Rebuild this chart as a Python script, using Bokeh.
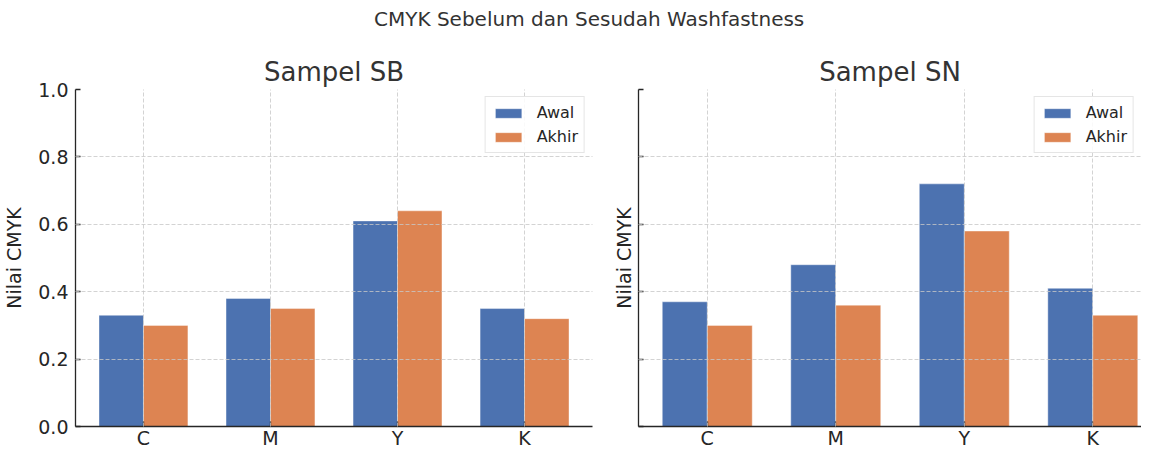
import numpy as np
from bokeh.plotting import figure
from bokeh.models import (Range1d, FixedTicker, Div, Legend, LegendItem,
                          CustomJSTickFormatter, PrintfTickFormatter, ColumnDataSource)
from bokeh.transform import dodge
from bokeh.layouts import column, row
from bokeh.embed import file_html
from bokeh.resources import INLINE

suptitle = "CMYK Sebelum dan Sesudah Washfastness"
categories = ["C", "M", "Y", "K"]
series_names = ["Awal", "Akhir"]
sb_awal = [0.33, 0.38, 0.61, 0.35]
sb_akhir = [0.30, 0.35, 0.64, 0.32]
sn_awal = [0.37, 0.48, 0.72, 0.41]
sn_akhir = [0.30, 0.36, 0.58, 0.33]
y_ticks = [0.0, 0.2, 0.4, 0.6, 0.8, 1.0]
y_label = "Nilai CMYK"
colors = ["#4C72B0", "#DD8452"]

FONT = "DejaVu Sans"
TXT = "#262626"


def make_panel(title, awal, akhir, width, bl, br, x_end, show_labels, label_standoff):
    p = figure(width=width, height=419, x_range=Range1d(-0.535, x_end),
               y_range=Range1d(0, 1), output_backend="svg", toolbar_location=None,
               min_border_left=bl, min_border_right=br, min_border_top=57,
               min_border_bottom=20, title=title)
    p.title.text_font = FONT
    p.title.text_font_size = "26px"
    p.title.text_font_style = "normal"
    p.title.text_color = "#333333"
    p.title.align = "center"
    p.title.standoff = 5
    p.outline_line_color = None
    p.background_fill_color = "white"
    p.border_fill_color = "white"

    x = np.arange(len(categories))
    src = ColumnDataSource(dict(x=x, awal=awal, akhir=akhir))
    r1 = p.vbar(x=dodge("x", -0.175), top="awal", width=0.35, source=src,
                fill_color=colors[0], line_color="#ffffff", line_alpha=0.4, line_width=1)
    r2 = p.vbar(x=dodge("x", 0.175), top="akhir", width=0.35, source=src,
                fill_color=colors[1], line_color="#ffffff", line_alpha=0.4, line_width=1)

    p.xaxis.ticker = FixedTicker(ticks=list(range(len(categories))))
    p.xaxis.major_label_overrides = {i: c for i, c in enumerate(categories)}
    p.yaxis.ticker = FixedTicker(ticks=y_ticks)
    if show_labels:
        p.yaxis.formatter = PrintfTickFormatter(format="%.1f")
    else:
        p.yaxis.formatter = CustomJSTickFormatter(code="return ''")
    p.yaxis.axis_label = y_label
    p.yaxis.axis_label_text_font = FONT
    p.yaxis.axis_label_text_font_size = "19px"
    p.yaxis.axis_label_text_font_style = "normal"
    p.yaxis.axis_label_text_color = TXT
    p.yaxis.axis_label_standoff = label_standoff

    for ax in (p.xaxis, p.yaxis):
        ax.major_label_text_font = FONT
        ax.major_label_text_font_size = "19px"
        ax.major_label_text_color = TXT
        ax.axis_line_color = TXT
        ax.axis_line_width = 1.3
        ax.major_tick_line_color = TXT
        ax.major_tick_line_width = 1.3
        ax.major_tick_in = 5
        ax.major_tick_out = 0
        ax.minor_tick_line_color = None
    p.yaxis.major_label_standoff = 7
    p.xaxis.major_label_standoff = 0

    for g in (p.xgrid, p.ygrid):
        g.grid_line_color = "#c8c8c8"
        g.grid_line_dash = "4 2"
        g.grid_line_width = 0.8
        g.level = "overlay"

    legend = Legend(items=[LegendItem(label=series_names[0], renderers=[r1]),
                           LegendItem(label=series_names[1], renderers=[r2])],
                    location="top_right", margin=7, padding=6, spacing=5,
                    glyph_width=33, glyph_height=12, label_standoff=12,
                    label_text_font=FONT, label_text_font_size="16px",
                    label_text_color=TXT, label_height=19,
                    border_line_color="#cccccc", border_line_width=1,
                    background_fill_color="white", background_fill_alpha=0.85)
    p.add_layout(legend)
    return p


p1 = make_panel("Sampel SB", sb_awal, sb_akhir, 602, 69, 10, 3.535, True, 10)
p2 = make_panel("Sampel SN", sn_awal, sn_akhir, 539, 36, 0, 3.379, False, 4)

header = Div(text=suptitle, width=1141, height=22,
             styles={"font-family": FONT, "font-size": "20px", "color": "#333333",
                     "text-align": "left", "text-indent": "369px",
                     "white-space": "nowrap"})

layout = column(header, row(p1, p2), spacing=0)

open("out.html", "w").write(file_html(layout, INLINE))
